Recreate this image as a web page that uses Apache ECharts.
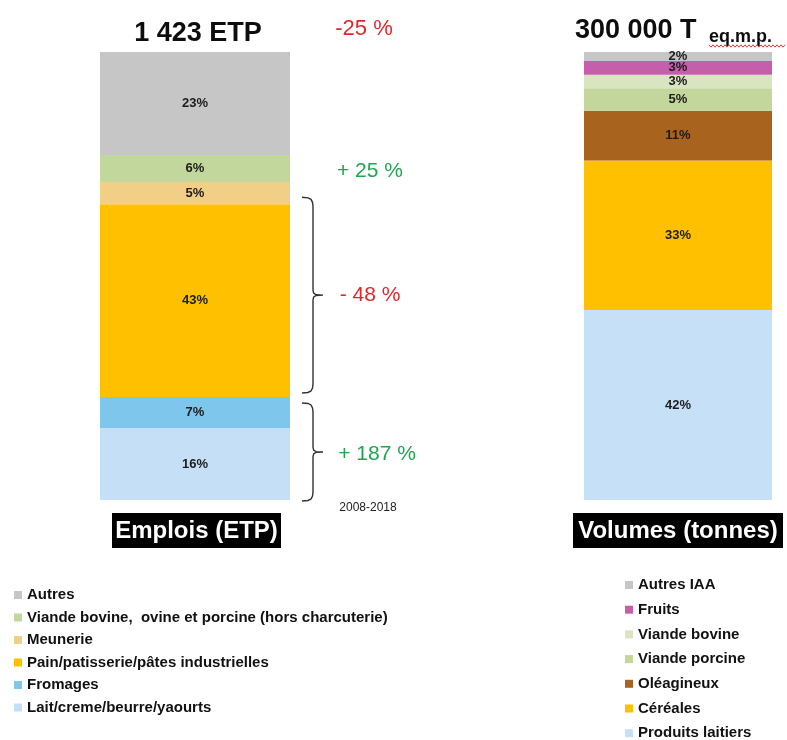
<!DOCTYPE html>
<html>
<head>
<meta charset="utf-8">
<script src="https://cdn.jsdelivr.net/npm/echarts@6/dist/echarts.min.js"></script>
<style>
  html, body { margin: 0; padding: 0; background: #ffffff; }
  #chart { width: 787px; height: 740px; }
</style>
</head>
<body>
<div id="chart"></div>
<script>
// Employment breakdown (share of ETP), listed bottom to top of the stack
const emploisCategories = [
  'Lait/creme/beurre/yaourts',
  'Fromages',
  'Pain/patisserie/pâtes industrielles',
  'Meunerie',
  'Viande bovine,  ovine et porcine (hors charcuterie)',
  'Autres'
];
const emploisShares = [16, 7, 43, 5, 6, 23];

// Volume breakdown (share of tonnes), listed bottom to top of the stack
const volumesCategories = [
  'Produits laitiers',
  'Céréales',
  'Oléagineux',
  'Viande porcine',
  'Viande bovine',
  'Fruits',
  'Autres IAA'
];
const volumesShares = [42, 33, 11, 5, 3, 3, 2];

// Headline figures and 2008-2018 changes
const emploisTotal = '1 423 ETP';
const volumesTotal = '300 000 T';
const volumesUnit = 'eq.m.p.';
const periodLabel = '2008-2018';
const changeTotal = '-25 %';
const changeViande = '+ 25 %';
const changePain = '- 48 %';
const changeLaitiers = '+ 187 %';
const emploisAxisName = 'Emplois (ETP)';
const volumesAxisName = 'Volumes (tonnes)';

// Palettes
const emploisColors = ['#c5e0f6', '#7fc6ec', '#ffc000', '#f2cf86', '#c2d79c', '#c6c6c6'];
const volumesColors = ['#c5e0f7', '#ffc000', '#a8641f', '#c3d69b', '#d9e5c0', '#c65fab', '#c6c6c6'];

const FONT = '"Liberation Sans", Arial, sans-serif';
const RED = '#e2262b';
const GREEN = '#22a352';

const gridL = { left: 100, top: 52, width: 190, height: 448 };
const gridR = { left: 584, top: 52, width: 188, height: 448 };

const chart = echarts.init(document.getElementById('chart'), null, { renderer: 'canvas' });

function barLabel() {
  return {
    show: true,
    position: 'inside',
    formatter: '{c}%',
    color: '#1c1c1c',
    fontWeight: 'bold',
    fontSize: 13,
    fontFamily: FONT
  };
}

const series = [];
emploisCategories.forEach((name, i) => {
  series.push({
    name: name,
    type: 'bar',
    stack: 'emplois',
    xAxisIndex: 0,
    yAxisIndex: 0,
    barWidth: '100%',
    data: [emploisShares[i]],
    itemStyle: { color: emploisColors[i] },
    label: barLabel(),
    emphasis: { disabled: true }
  });
});
volumesCategories.forEach((name, i) => {
  series.push({
    name: name,
    type: 'bar',
    stack: 'volumes',
    xAxisIndex: 1,
    yAxisIndex: 1,
    barWidth: '100%',
    data: [volumesShares[i]],
    itemStyle: { color: volumesColors[i] },
    label: barLabel(),
    emphasis: { disabled: true }
  });
});

const legendText = {
  fontSize: 15,
  fontWeight: 'bold',
  color: '#111111',
  fontFamily: FONT
};

chart.setOption({
  animation: false,
  grid: [
    Object.assign({ containLabel: false }, gridL),
    Object.assign({ containLabel: false }, gridR)
  ],
  xAxis: [
    { type: 'category', gridIndex: 0, data: [emploisAxisName], show: false },
    { type: 'category', gridIndex: 1, data: [volumesAxisName], show: false }
  ],
  yAxis: [
    { type: 'value', gridIndex: 0, min: 0, max: emploisShares.reduce((a, b) => a + b, 0), show: false },
    { type: 'value', gridIndex: 1, min: 0, max: volumesShares.reduce((a, b) => a + b, 0), show: false }
  ],
  legend: [
    {
      orient: 'vertical',
      left: 14,
      top: 587.5,
      width: 420,
      height: 200,
      padding: 0,
      itemWidth: 8,
      itemHeight: 8,
      itemGap: 7.5,
      icon: 'rect',
      selectedMode: false,
      data: emploisCategories.slice().reverse(),
      textStyle: legendText
    },
    {
      orient: 'vertical',
      left: 625,
      top: 577.5,
      width: 160,
      height: 200,
      padding: 0,
      itemWidth: 8,
      itemHeight: 8,
      itemGap: 9.7,
      icon: 'rect',
      selectedMode: false,
      data: volumesCategories.slice().reverse(),
      textStyle: legendText
    }
  ],
  series: series
});

// Braces grouping stacked segments, positioned from the stacked values
const yL = v => chart.convertToPixel({ yAxisIndex: 0 }, v);
const cum = n => emploisShares.slice(0, n).reduce((a, b) => a + b, 0);
const braceX = gridL.left + gridL.width + 23;

function brace(top, bottom) {
  const mid = (top + bottom) / 2;
  const x = braceX;
  return {
    type: 'polyline',
    silent: true,
    shape: {
      points: [
        [x - 11, top], [x - 5, top + 0.5], [x - 2, top + 2], [x - 0.5, top + 5], [x, top + 9],
        [x, mid - 5], [x + 0.6, mid - 2], [x + 3, mid - 0.4], [x + 10, mid],
        [x + 3, mid + 0.4], [x + 0.6, mid + 2], [x, mid + 5],
        [x, bottom - 9], [x - 0.5, bottom - 5], [x - 2, bottom - 2], [x - 5, bottom - 0.5], [x - 11, bottom]
      ]
    },
    style: { stroke: '#333333', lineWidth: 1.4, fill: null }
  };
}

const brace1Top = yL(cum(3)) - 7;
const brace1Bottom = yL(cum(2)) - 4;
const brace2Top = yL(cum(2)) + 6;
const brace2Bottom = yL(0) + 1;

// Red wavy underline beneath the unit
const wave = [];
for (let x = 709; x <= 786; x += 2) {
  wave.push([x, 46 + ((x / 2) % 2 < 1 ? -1.2 : 1.2)]);
}

function text(t, x, y, size, color, weight, align) {
  return {
    type: 'text',
    silent: true,
    x: x,
    y: y,
    style: {
      text: t,
      fontSize: size,
      fontFamily: FONT,
      fontWeight: weight || 'normal',
      fill: color,
      align: align || 'center',
      verticalAlign: 'middle'
    }
  };
}

chart.setOption({
  graphic: [
    text(emploisTotal, 198, 34, 27, '#0d0d0d', 'bold'),
    text(volumesTotal, 575, 31, 27, '#0d0d0d', 'bold', 'left'),
    text(volumesUnit, 709, 37, 18, '#0d0d0d', 'bold', 'left'),
    { type: 'polyline', silent: true, shape: { points: wave }, style: { stroke: '#e03a3a', lineWidth: 1, fill: null } },
    text(changeTotal, 364, 29, 22, RED),
    text(changeViande, 370, 171, 21, GREEN),
    text(changePain, 370, (brace1Top + brace1Bottom) / 2, 21, RED),
    text(changeLaitiers, 377, (brace2Top + brace2Bottom) / 2 + 2, 21, GREEN),
    text(periodLabel, 368, 508, 12, '#222222'),
    brace(brace1Top, brace1Bottom),
    brace(brace2Top, brace2Bottom),
    { type: 'rect', silent: true, shape: { x: 112, y: 513, width: 169, height: 35 }, style: { fill: '#000000' } },
    text(emploisAxisName, 196.5, 531, 24, '#ffffff', 'bold'),
    { type: 'rect', silent: true, shape: { x: 573, y: 513, width: 210, height: 35 }, style: { fill: '#000000' } },
    text(volumesAxisName, 678, 531, 24, '#ffffff', 'bold')
  ]
});
</script>
</body>
</html>
